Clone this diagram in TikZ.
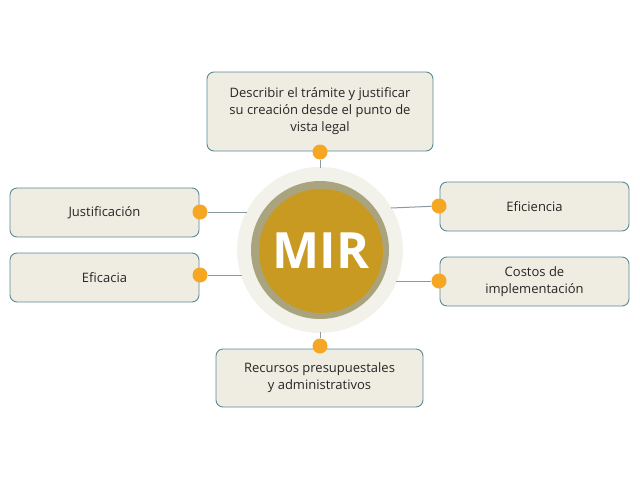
\documentclass[tikz,border=0pt]{standalone}
\usepackage{fontspec}
\setmainfont{Open Sans}
\definecolor{boxfill}{HTML}{EFECE1}
\definecolor{boxline}{HTML}{5A8A98}
\definecolor{dotc}{HTML}{F5A623}
\definecolor{gold}{HTML}{C99A22}
\definecolor{olive}{HTML}{A9A47E}
\definecolor{pale}{HTML}{F3F2EA}
\definecolor{linec}{HTML}{8A9AA0}
\begin{document}
\begin{tikzpicture}[x=1pt,y=-1pt,
  box/.style={draw=boxline,fill=boxfill,rounded corners=7pt,line width=0.9pt,align=center,font=\fontsize{13}{17}\selectfont,text=black!85},
  dot/.style={circle,fill=dotc,minimum size=15pt,inner sep=0pt},
  conn/.style={draw=linec,line width=1pt}]
\useasboundingbox (0,0) rectangle (640,480);
\node[circle,fill=pale,minimum size=166pt,inner sep=0] (outer) at (320,250) {};
\node[circle,fill=olive,minimum size=138pt,inner sep=0] (ring) at (320,250) {};
\node[circle,fill=gold,minimum size=124pt,inner sep=0,text=white,font=\fontsize{50}{50}\selectfont\bfseries] (mir) at (321,251) {MIR};
\node[box,minimum width=226pt,minimum height=79pt] (top) at (320,111.5) {Describir el trámite y justificar\\su creación desde el punto de\\vista legal};
\node[box,minimum width=189pt,minimum height=49pt] (just) at (104.5,212.5) {Justificación};
\node[box,minimum width=189pt,minimum height=49pt] (efic) at (104.5,277.5) {Eficacia};
\node[box,minimum width=189pt,minimum height=49pt] (efi) at (534.5,206.5) {Eficiencia};
\node[box,minimum width=189pt,minimum height=49pt] (cost) at (534.5,281.5) {Costos de\\implementación};
\node[box,minimum width=207pt,minimum height=58pt] (rec) at (319.5,378) {Recursos presupuestales\\y administrativos};
\node[dot] (d1) at (320,152) {};
\node[dot] (d2) at (200,212) {};
\node[dot] (d3) at (200,275) {};
\node[dot] (d4) at (439,206) {};
\node[dot] (d5) at (439,281) {};
\node[dot] (d6) at (320,346) {};
\coordinate (e1) at (320,168);
\coordinate (e2) at (247,212);
\coordinate (e3) at (242,275);
\coordinate (e4) at (391,208);
\coordinate (e5) at (396,281);
\coordinate (e6) at (320,332);
\foreach \i in {1,...,6}{\draw[conn] (d\i) -- (e\i);}
\end{tikzpicture}
\end{document}
